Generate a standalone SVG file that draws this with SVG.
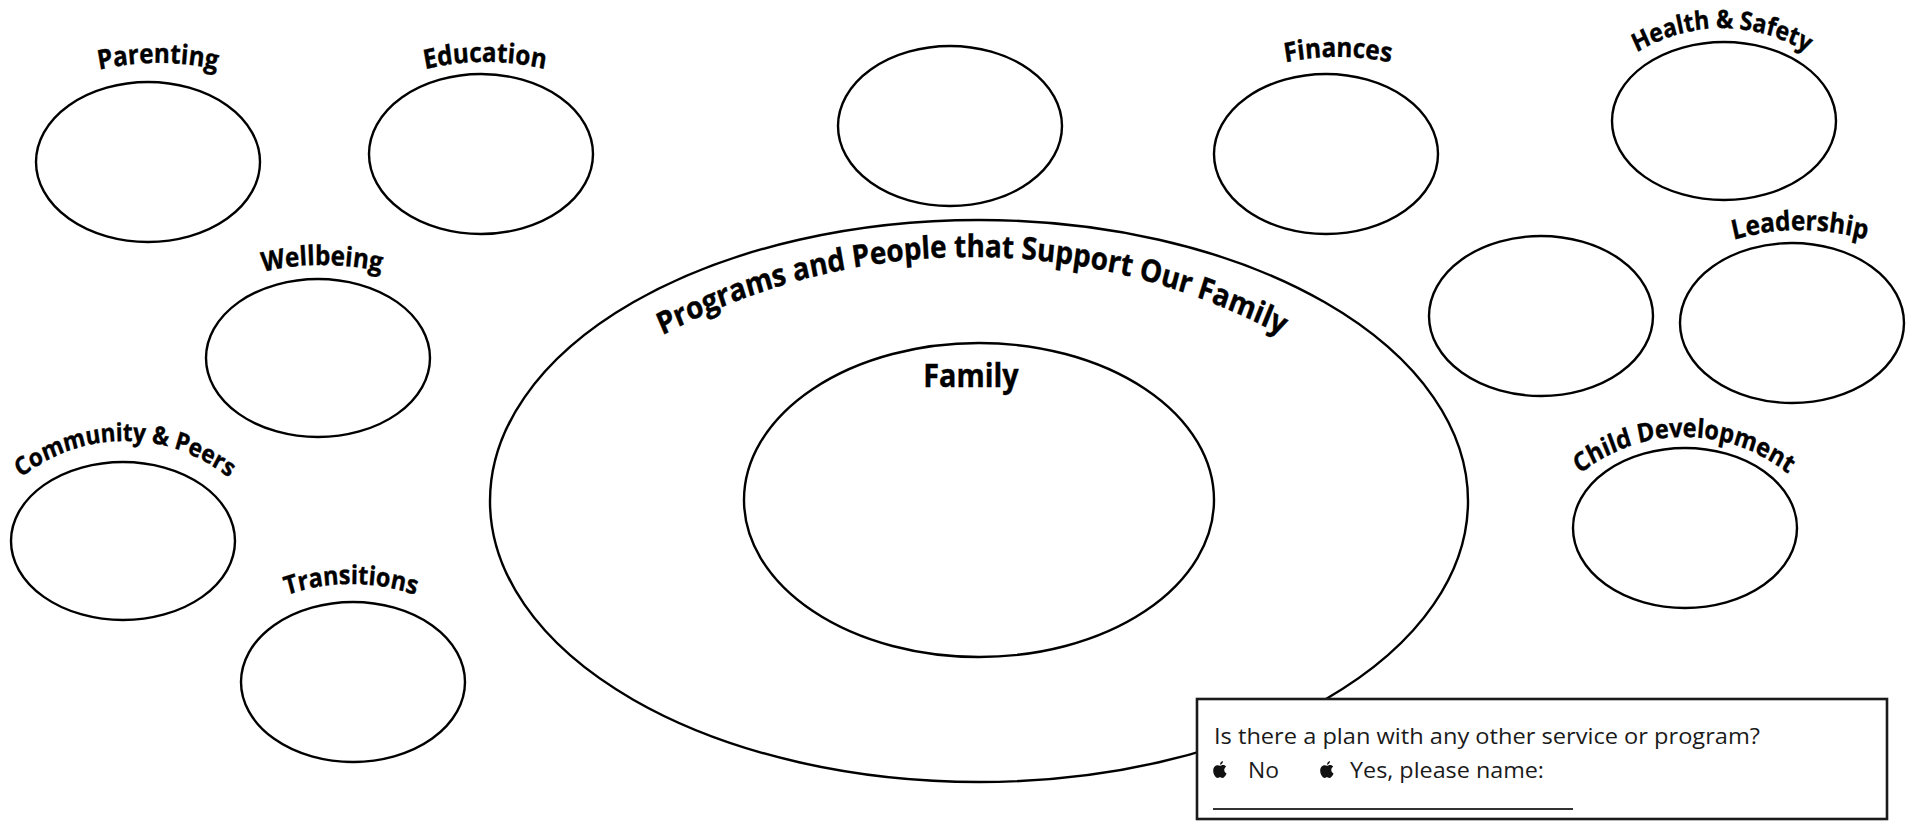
<svg xmlns="http://www.w3.org/2000/svg" xmlns:xlink="http://www.w3.org/1999/xlink" width="1915" height="821" viewBox="0 0 1915 821">
<style>
.ov{fill:none;stroke:#000;stroke-width:2.4}
.lbl{font-family:"Open Sans","Liberation Sans",sans-serif;font-weight:700;fill:#000;stroke:#000;stroke-width:0.4}
.box{fill:#fff;stroke:#1a1a1a;stroke-width:2.6}
.q{font-family:"Open Sans","Liberation Sans",sans-serif;font-size:21.5px;fill:#1a1a1a}
</style>
<defs>
<path id="a-par" d="M -115.6 269.6 A 277.8 250 0 0 1 431.6 269.6"/>
<path id="a-edu" d="M 211.4 268.6 A 277.8 250 0 0 1 758.6 268.6"/>
<path id="a-wel" d="M 48.4 471.6 A 277.8 250 0 0 1 595.6 471.6"/>
<path id="a-com" d="M -57.6 591.6 A 183.3 165 0 0 1 307.6 591.6"/>
<path id="a-tra" d="M 143.1 741 A 211.1 190 0 0 1 558.9 741"/>
<path id="a-fin" d="M 1064.4 263.6 A 277.8 250 0 0 1 1611.6 263.6"/>
<path id="a-hea" d="M 1544.9 174 A 177.8 160 0 0 1 1899.1 174"/>
<path id="a-lea" d="M 1548.3 420.1 A 255.6 230 0 0 1 2051.7 420.1"/>
<path id="a-chi" d="M 1501.4 587.6 A 183.3 165 0 0 1 1866.6 587.6"/>
<path id="a-pro" d="M 507.8 409.1 A 722.2 650 0 0 1 1436.2 409.1"/>
<symbol id="apple" viewBox="0 0 12 15" overflow="visible">
<path d="M6,4.2 C4,3.2 0,3.6 0,8.6 C0,12 2.4,15 4,15 C5,15 5.3,14.4 6,14.4 C6.7,14.4 7,15 8,15 C9.5,15 11,13 11.8,11 C10.2,10.2 9.6,8.8 9.8,7.4 C10,6.2 10.7,5.4 11.4,5 C10.4,3.6 8.8,3.4 8,3.6 C7.2,3.8 6.6,4.4 6,4.2 Z M6,3.3 C6,1.8 7,0.4 8.6,0 C8.7,1.6 7.6,3 6,3.3 Z" fill="#111"/>
</symbol>
</defs>
<rect width="1915" height="821" fill="#fff"/>
<g id="connectors"/>
<g id="programs">
<ellipse class="ov" cx="979" cy="501" rx="489" ry="281"/>
<text class="lbl" font-size="31" transform="matrix(0.9 0 0 1 97.2 0)"><textPath href="#a-pro" xlink:href="#a-pro" startOffset="50%" text-anchor="middle">Programs and People that Support Our Family</textPath></text>
</g>
<g id="family">
<ellipse class="ov" cx="979" cy="500" rx="235" ry="157"/>
<text class="lbl" font-size="32" x="971" y="387" text-anchor="middle" transform="matrix(0.9 0 0 1 97.1 0)">Family</text>
</g>
<g id="parenting">
<ellipse class="ov" cx="148" cy="162" rx="112" ry="80"/>
<text class="lbl" font-size="27" transform="matrix(0.9 0 0 1 15.8 0)"><textPath href="#a-par" xlink:href="#a-par" startOffset="50%" text-anchor="middle">Parenting</textPath></text>
</g>
<g id="education">
<ellipse class="ov" cx="481" cy="154" rx="112" ry="80"/>
<text class="lbl" font-size="27" transform="matrix(0.9 0 0 1 48.5 0)"><textPath href="#a-edu" xlink:href="#a-edu" startOffset="50%" text-anchor="middle">Education</textPath></text>
</g>
<g id="wellbeing">
<ellipse class="ov" cx="318" cy="358" rx="112" ry="79"/>
<text class="lbl" font-size="27" transform="matrix(0.9 0 0 1 32.2 0)"><textPath href="#a-wel" xlink:href="#a-wel" startOffset="50%" text-anchor="middle">Wellbeing</textPath></text>
</g>
<g id="community">
<ellipse class="ov" cx="123" cy="541" rx="112" ry="79"/>
<text class="lbl" font-size="25" transform="matrix(0.9 0 0 1 12.5 0)"><textPath href="#a-com" xlink:href="#a-com" startOffset="50%" text-anchor="middle">Community &amp; Peers</textPath></text>
</g>
<g id="transitions">
<ellipse class="ov" cx="353" cy="682" rx="112" ry="80"/>
<text class="lbl" font-size="26" transform="matrix(0.9 0 0 1 35.1 0)"><textPath href="#a-tra" xlink:href="#a-tra" startOffset="50%" text-anchor="middle">Transitions</textPath></text>
</g>
<g id="blank-top">
<ellipse class="ov" cx="950" cy="126" rx="112" ry="80"/>
</g>
<g id="finances">
<ellipse class="ov" cx="1326" cy="154" rx="112" ry="80"/>
<text class="lbl" font-size="27" transform="matrix(0.9 0 0 1 133.8 0)"><textPath href="#a-fin" xlink:href="#a-fin" startOffset="50%" text-anchor="middle">Finances</textPath></text>
</g>
<g id="health">
<ellipse class="ov" cx="1724" cy="121" rx="112" ry="79"/>
<text class="lbl" font-size="25.5" transform="matrix(0.9 0 0 1 172.2 0)"><textPath href="#a-hea" xlink:href="#a-hea" startOffset="50%" text-anchor="middle">Health &amp; Safety</textPath></text>
</g>
<g id="blank-right">
<ellipse class="ov" cx="1541" cy="316" rx="112" ry="80"/>
</g>
<g id="leadership">
<ellipse class="ov" cx="1792" cy="323" rx="112" ry="80"/>
<text class="lbl" font-size="27" transform="matrix(0.9 0 0 1 180 0)"><textPath href="#a-lea" xlink:href="#a-lea" startOffset="50%" text-anchor="middle">Leadership</textPath></text>
</g>
<g id="child">
<ellipse class="ov" cx="1685" cy="528" rx="112" ry="80"/>
<text class="lbl" font-size="26" transform="matrix(0.9 0 0 1 168.4 0)"><textPath href="#a-chi" xlink:href="#a-chi" startOffset="50%" text-anchor="middle">Child Development</textPath></text>
</g>
<g id="plan-box">
<rect class="box" x="1197" y="699" width="690" height="120"/>
<text class="q" x="1214" y="744" textLength="546" lengthAdjust="spacingAndGlyphs">Is there a plan with any other service or program?</text>
<use href="#apple" xlink:href="#apple" x="1213" y="761" width="14" height="17"/>
<text class="q" x="1248" y="778" textLength="31" lengthAdjust="spacingAndGlyphs">No</text>
<use href="#apple" xlink:href="#apple" x="1320" y="761" width="14" height="17"/>
<text class="q" x="1350" y="778" textLength="194" lengthAdjust="spacingAndGlyphs">Yes, please name:</text>
<line x1="1213" y1="809" x2="1573" y2="809" stroke="#333" stroke-width="2"/>
</g>
</svg>
